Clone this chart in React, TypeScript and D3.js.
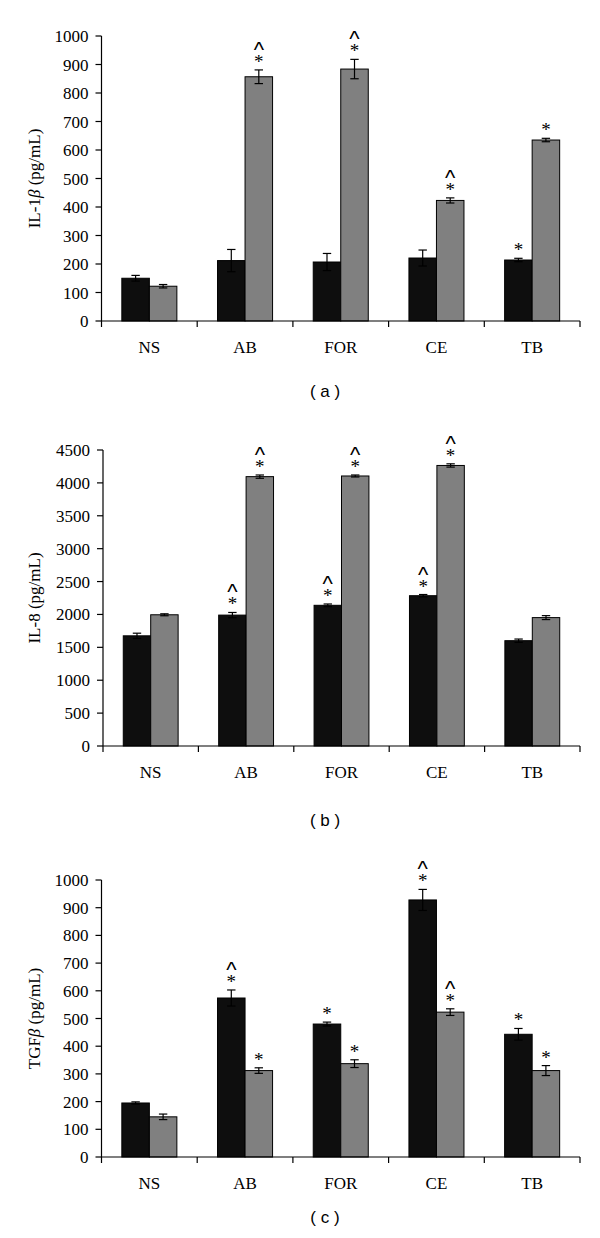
import React from "react";
import * as d3 from "d3";

const categories = ["NS", "AB", "FOR", "CE", "TB"];

// Panel (a) IL-1β
const il1bBlack = [150, 212, 207, 221, 214];
const il1bBlackErr = [10, 39, 30, 28, 6];
const il1bGrey = [122, 857, 884, 423, 635];
const il1bGreyErr = [6, 24, 34, 9, 6];
const il1bBlackMarks = ["", "", "", "", "*"];
const il1bGreyMarks = ["", "*^", "*^", "*^", "*"];
const il1bTicks = [0, 100, 200, 300, 400, 500, 600, 700, 800, 900, 1000];

// Panel (b) IL-8
const il8Black = [1675, 1990, 2139, 2285, 1601];
const il8BlackErr = [40, 40, 20, 18, 25];
const il8Grey = [1995, 4095, 4105, 4265, 1952];
const il8GreyErr = [15, 25, 15, 25, 30];
const il8BlackMarks = ["", "*^", "*^", "*^", ""];
const il8GreyMarks = ["", "*^", "*^", "*^", ""];
const il8Ticks = [0, 500, 1000, 1500, 2000, 2500, 3000, 3500, 4000, 4500];

// Panel (c) TGFβ
const tgfBlack = [195, 574, 480, 928, 443];
const tgfBlackErr = [4, 29, 7, 38, 21];
const tgfGrey = [145, 312, 337, 523, 312];
const tgfGreyErr = [10, 10, 14, 12, 18];
const tgfBlackMarks = ["", "*^", "*", "*^", "*"];
const tgfGreyMarks = ["", "*", "*", "*^", "*"];
const tgfTicks = [0, 100, 200, 300, 400, 500, 600, 700, 800, 900, 1000];

const SERIF = "'Liberation Serif', 'DejaVu Serif', serif";
const SANS = "'Liberation Sans', Arial, sans-serif";
const BLACK_FILL = "#0e0e0e";
const GREY_FILL = "#808080";

type PanelProps = {
  top: number;
  bottom: number;
  left: number;
  right: number;
  max: number;
  ticks: number[];
  black: number[];
  blackErr: number[];
  grey: number[];
  greyErr: number[];
  blackMarks: string[];
  greyMarks: string[];
  title: React.ReactNode;
  caption: string;
  captionY: number;
};

function Panel(p: PanelProps) {
  const y = d3.scaleLinear().domain([0, p.max]).range([p.bottom, p.top]);
  const x = d3.scaleBand<string>().domain(categories).range([p.left, p.right]);
  const bw = x.bandwidth();
  const pairW = bw * 0.575;
  const barW = pairW / 2;
  const cap = 4.2;

  const bars: React.ReactNode[] = [];
  categories.forEach((c, i) => {
    const x0 = (x(c) as number) + (bw - pairW) / 2;
    const series = [
      { v: p.black[i], e: p.blackErr[i], m: p.blackMarks[i], fill: BLACK_FILL, bx: x0 },
      { v: p.grey[i], e: p.greyErr[i], m: p.greyMarks[i], fill: GREY_FILL, bx: x0 + barW },
    ];
    series.forEach((s, k) => {
      const cx = s.bx + barW / 2;
      const yTop = y(s.v);
      const yHi = y(s.v + s.e);
      const yLo = y(s.v - s.e);
      const starBase = yHi - 11 + 9;
      const caretBase = yHi - 25 + 12;
      bars.push(
        <g key={`${c}-${k}`}>
          <rect x={s.bx} y={yTop} width={barW} height={p.bottom - yTop} fill={s.fill} stroke="#000" strokeWidth={1} />
          <line x1={cx} x2={cx} y1={yHi} y2={yLo} stroke="#000" strokeWidth={1.2} />
          <line x1={cx - cap} x2={cx + cap} y1={yHi} y2={yHi} stroke="#000" strokeWidth={1.2} />
          <line x1={cx - cap} x2={cx + cap} y1={yLo} y2={yLo} stroke="#000" strokeWidth={1.2} />
          {s.m === "*" && (
            <text x={cx} y={starBase} textAnchor="middle" fontFamily={SERIF} fontSize={19} fill="#000">*</text>
          )}
          {s.m === "*^" && (
            <text textAnchor="middle" fill="#000">
              <tspan x={cx} y={caretBase} fontFamily={SANS} fontSize={22}>^</tspan>
              <tspan x={cx} y={starBase} fontFamily={SERIF} fontSize={19}>*</tspan>
            </text>
          )}
        </g>
      );
    });
  });

  const bounds = [...categories.map((c) => x(c) as number), p.right];

  return (
    <g>
      {bars}
      {/* y axis */}
      <line x1={p.left} x2={p.left} y1={p.top} y2={p.bottom} stroke="#000" strokeWidth={1.2} />
      {p.ticks.map((t) => (
        <g key={t}>
          <line x1={p.left - 6} x2={p.left} y1={y(t)} y2={y(t)} stroke="#000" strokeWidth={1.2} />
          <text x={p.left - 13} y={y(t) + 6} textAnchor="end" fontFamily={SERIF} fontSize={17} fill="#000">{t}</text>
        </g>
      ))}
      {/* x axis */}
      <line x1={p.left} x2={p.right} y1={p.bottom} y2={p.bottom} stroke="#000" strokeWidth={1.2} />
      {bounds.map((b, i) => (
        <line key={i} x1={b} x2={b} y1={p.bottom} y2={p.bottom + 6} stroke="#000" strokeWidth={1.2} />
      ))}
      {categories.map((c) => (
        <text key={c} x={(x(c) as number) + bw / 2} y={p.bottom + 32} textAnchor="middle" fontFamily={SERIF} fontSize={17} fill="#000">{c}</text>
      ))}
      <text
        transform={`translate(40, ${(p.top + p.bottom) / 2}) rotate(-90)`}
        textAnchor="middle"
        fontFamily={SERIF}
        fontSize={17}
        fill="#000"
      >
        {p.title}
      </text>
      <text x={325} y={p.captionY + 6} textAnchor="middle" fontFamily={SANS} fontSize={17} fill="#000">{p.caption}</text>
    </g>
  );
}

export default function App() {
  return (
    <svg width={600} height={1238} style={{ position: "absolute", left: 0, top: 0, background: "#fff" }}>
      <rect x={0} y={0} width={600} height={1238} fill="#fff" />
      <Panel
        top={36}
        bottom={321}
        left={101.5}
        right={580}
        max={1000}
        ticks={il1bTicks}
        black={il1bBlack}
        blackErr={il1bBlackErr}
        grey={il1bGrey}
        greyErr={il1bGreyErr}
        blackMarks={il1bBlackMarks}
        greyMarks={il1bGreyMarks}
        title={<>IL-1<tspan fontStyle="italic">β</tspan> (pg/mL)</>}
        caption="( a )"
        captionY={391}
      />
      <Panel
        top={450}
        bottom={746}
        left={103}
        right={580}
        max={4500}
        ticks={il8Ticks}
        black={il8Black}
        blackErr={il8BlackErr}
        grey={il8Grey}
        greyErr={il8GreyErr}
        blackMarks={il8BlackMarks}
        greyMarks={il8GreyMarks}
        title={<>IL-8 (pg/mL)</>}
        caption="( b )"
        captionY={820}
      />
      <Panel
        top={880}
        bottom={1157}
        left={101.5}
        right={580}
        max={1000}
        ticks={tgfTicks}
        black={tgfBlack}
        blackErr={tgfBlackErr}
        grey={tgfGrey}
        greyErr={tgfGreyErr}
        blackMarks={tgfBlackMarks}
        greyMarks={tgfGreyMarks}
        title={<>TGF<tspan fontStyle="italic">β</tspan> (pg/mL)</>}
        caption="( c )"
        captionY={1217}
      />
    </svg>
  );
}
